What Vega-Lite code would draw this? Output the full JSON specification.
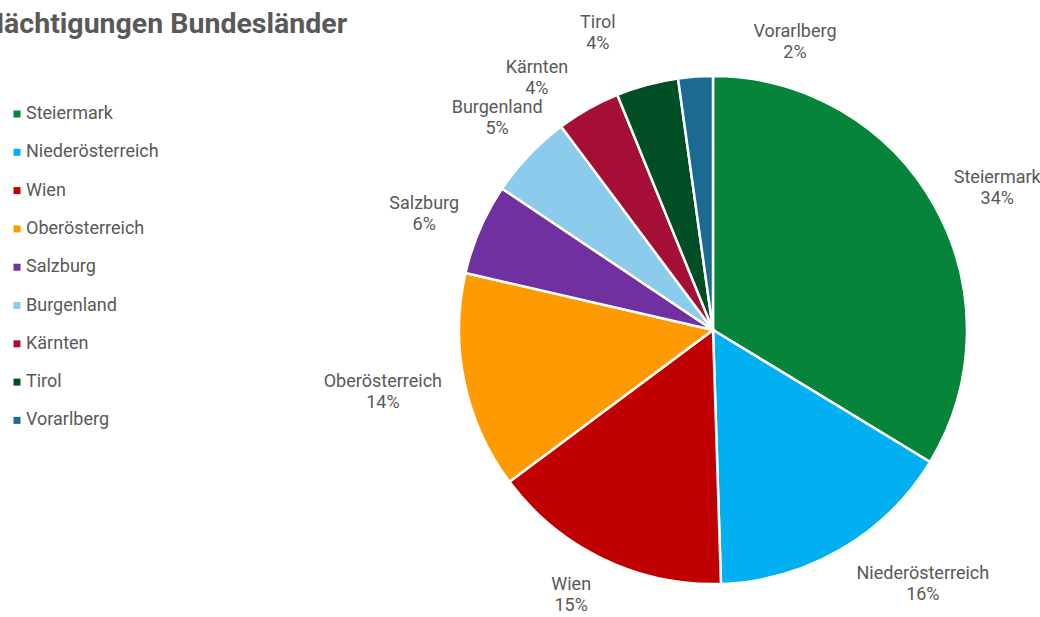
{
  "$schema": "https://vega.github.io/schema/vega-lite/v6.json",
  "autosize": {"type": "none"},
  "width": 560,
  "height": 560,
  "padding": {"left": 433, "top": 50, "right": 47, "bottom": 7},
  "background": "white",
  "title": {
    "text": "Nächtigungen Bundesländer",
    "anchor": "start",
    "frame": "group",
    "font": "Roboto",
    "fontSize": 28.5,
    "fontWeight": "bold",
    "color": "#595959",
    "baseline": "alphabetic",
    "dx": -449,
    "dy": 64,
    "offset": 17
  },
  "config": {
    "view": {"stroke": null},
    "text": {"font": "Roboto", "fontSize": 18, "fill": "#595959", "baseline": "middle", "align": "center"}
  },
  "data": {
    "values": [
      {"Bundesland": "Steiermark", "Anteil": 0.337},
      {"Bundesland": "Niederösterreich", "Anteil": 0.158},
      {"Bundesland": "Wien", "Anteil": 0.153},
      {"Bundesland": "Oberösterreich", "Anteil": 0.138},
      {"Bundesland": "Salzburg", "Anteil": 0.058},
      {"Bundesland": "Burgenland", "Anteil": 0.054},
      {"Bundesland": "Kärnten", "Anteil": 0.0405},
      {"Bundesland": "Tirol", "Anteil": 0.0395},
      {"Bundesland": "Vorarlberg", "Anteil": 0.022}
    ]
  },
  "transform": [
    {"stack": "Anteil", "groupby": [], "as": ["s0", "s1"], "sort": [{"field": "Anteil", "order": "descending"}]}
  ],
  "layer": [
    {
      "mark": {"type": "arc", "outerRadius": 254, "stroke": "white", "strokeWidth": 2.5},
      "encoding": {
        "theta": {"field": "s0", "type": "quantitative", "scale": {"domain": [0, 1]}},
        "theta2": {"field": "s1"},
        "color": {
          "field": "Bundesland",
          "type": "nominal",
          "sort": ["Steiermark", "Niederösterreich", "Wien", "Oberösterreich", "Salzburg", "Burgenland", "Kärnten", "Tirol", "Vorarlberg"],
          "scale": {
            "domain": ["Steiermark", "Niederösterreich", "Wien", "Oberösterreich", "Salzburg", "Burgenland", "Kärnten", "Tirol", "Vorarlberg"],
            "range": ["#06843A", "#00B0F0", "#C00000", "#FF9A00", "#7030A0", "#8BCBEB", "#A50F36", "#004E23", "#1B6A92"]
          },
          "legend": {
            "orient": "none",
            "legendX": -425,
            "legendY": 55,
            "title": null,
            "symbolType": "square",
            "symbolSize": 49,
            "symbolStrokeWidth": 0,
            "labelFont": "Roboto",
            "labelFontSize": 18,
            "labelColor": "#595959",
            "labelOffset": 0,
            "rowPadding": 20.3
          }
        }
      }
    },
    {"transform": [{"filter": "datum.Bundesland == 'Steiermark'"}], "mark": {"type": "text", "radius": 318, "thetaOffset": 1.106, "dy": -9}, "encoding": {"theta": {"field": "s0", "type": "quantitative"}, "text": {"field": "Bundesland"}}},
    {"transform": [{"filter": "datum.Bundesland == 'Steiermark'"}], "mark": {"type": "text", "radius": 318, "thetaOffset": 1.106, "dy": 12}, "encoding": {"theta": {"field": "s0", "type": "quantitative"}, "text": {"field": "Anteil", "format": ".0%"}}},
    {"transform": [{"filter": "datum.Bundesland == 'Niederösterreich'"}], "mark": {"type": "text", "radius": 330, "thetaOffset": 0.335, "dy": -10.5}, "encoding": {"theta": {"field": "s0", "type": "quantitative"}, "text": {"field": "Bundesland"}}},
    {"transform": [{"filter": "datum.Bundesland == 'Niederösterreich'"}], "mark": {"type": "text", "radius": 330, "thetaOffset": 0.335, "dy": 10.5}, "encoding": {"theta": {"field": "s0", "type": "quantitative"}, "text": {"field": "Anteil", "format": ".0%"}}},
    {"transform": [{"filter": "datum.Bundesland == 'Wien'"}], "mark": {"type": "text", "radius": 301, "thetaOffset": 0.522, "dy": -10.5}, "encoding": {"theta": {"field": "s0", "type": "quantitative"}, "text": {"field": "Bundesland"}}},
    {"transform": [{"filter": "datum.Bundesland == 'Wien'"}], "mark": {"type": "text", "radius": 301, "thetaOffset": 0.522, "dy": 10.5}, "encoding": {"theta": {"field": "s0", "type": "quantitative"}, "text": {"field": "Anteil", "format": ".0%"}}},
    {"transform": [{"filter": "datum.Bundesland == 'Oberösterreich'"}], "mark": {"type": "text", "radius": 336, "thetaOffset": 0.454, "dy": -10.5}, "encoding": {"theta": {"field": "s0", "type": "quantitative"}, "text": {"field": "Bundesland"}}},
    {"transform": [{"filter": "datum.Bundesland == 'Oberösterreich'"}], "mark": {"type": "text", "radius": 336, "thetaOffset": 0.454, "dy": 10.5}, "encoding": {"theta": {"field": "s0", "type": "quantitative"}, "text": {"field": "Anteil", "format": ".0%"}}},
    {"transform": [{"filter": "datum.Bundesland == 'Salzburg'"}], "mark": {"type": "text", "radius": 311, "thetaOffset": 0.154, "dy": -10.5}, "encoding": {"theta": {"field": "s0", "type": "quantitative"}, "text": {"field": "Bundesland"}}},
    {"transform": [{"filter": "datum.Bundesland == 'Salzburg'"}], "mark": {"type": "text", "radius": 311, "thetaOffset": 0.154, "dy": 10.5}, "encoding": {"theta": {"field": "s0", "type": "quantitative"}, "text": {"field": "Anteil", "format": ".0%"}}},
    {"transform": [{"filter": "datum.Bundesland == 'Burgenland'"}], "mark": {"type": "text", "radius": 302, "thetaOffset": 0.184, "dy": -10.5}, "encoding": {"theta": {"field": "s0", "type": "quantitative"}, "text": {"field": "Bundesland"}}},
    {"transform": [{"filter": "datum.Bundesland == 'Burgenland'"}], "mark": {"type": "text", "radius": 302, "thetaOffset": 0.184, "dy": 10.5}, "encoding": {"theta": {"field": "s0", "type": "quantitative"}, "text": {"field": "Anteil", "format": ".0%"}}},
    {"transform": [{"filter": "datum.Bundesland == 'Kärnten'"}], "mark": {"type": "text", "radius": 307, "thetaOffset": 0.030, "dy": -10.5}, "encoding": {"theta": {"field": "s0", "type": "quantitative"}, "text": {"field": "Bundesland"}}},
    {"transform": [{"filter": "datum.Bundesland == 'Kärnten'"}], "mark": {"type": "text", "radius": 307, "thetaOffset": 0.030, "dy": 10.5}, "encoding": {"theta": {"field": "s0", "type": "quantitative"}, "text": {"field": "Anteil", "format": ".0%"}}},
    {"transform": [{"filter": "datum.Bundesland == 'Tirol'"}], "mark": {"type": "text", "radius": 318, "thetaOffset": 0.016, "dy": -10.5}, "encoding": {"theta": {"field": "s0", "type": "quantitative"}, "text": {"field": "Bundesland"}}},
    {"transform": [{"filter": "datum.Bundesland == 'Tirol'"}], "mark": {"type": "text", "radius": 318, "thetaOffset": 0.016, "dy": 10.5}, "encoding": {"theta": {"field": "s0", "type": "quantitative"}, "text": {"field": "Anteil", "format": ".0%"}}},
    {"transform": [{"filter": "datum.Bundesland == 'Vorarlberg'"}], "mark": {"type": "text", "radius": 299, "thetaOffset": 0.416, "dy": -10.5}, "encoding": {"theta": {"field": "s0", "type": "quantitative"}, "text": {"field": "Bundesland"}}},
    {"transform": [{"filter": "datum.Bundesland == 'Vorarlberg'"}], "mark": {"type": "text", "radius": 299, "thetaOffset": 0.416, "dy": 10.5}, "encoding": {"theta": {"field": "s0", "type": "quantitative"}, "text": {"field": "Anteil", "format": ".0%"}}}
  ]
}
